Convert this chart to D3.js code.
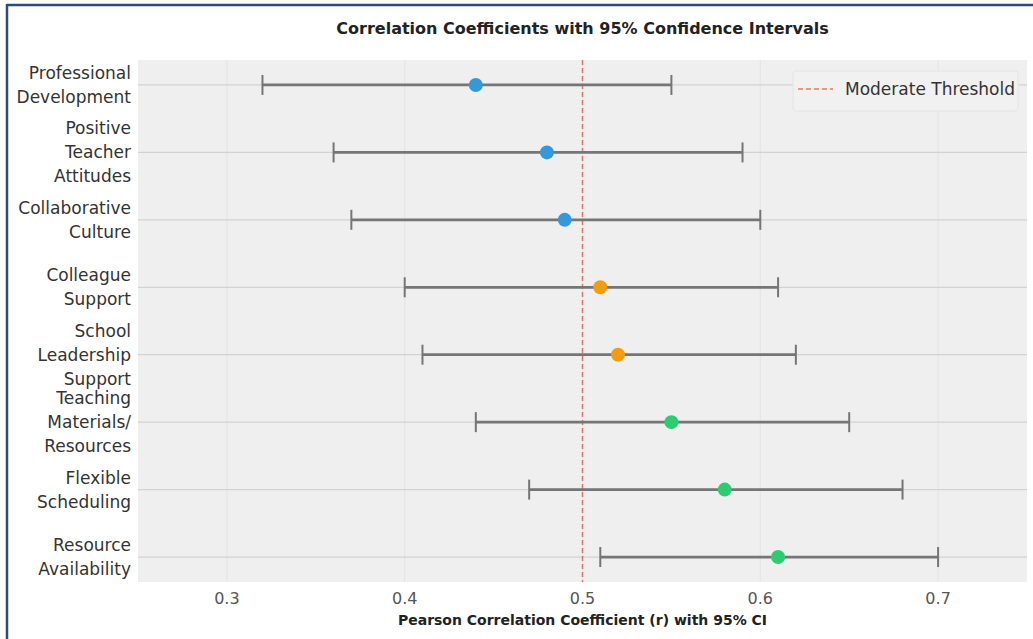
<!DOCTYPE html>
<html>
<head>
<meta charset="utf-8">
<script src="https://cdn.jsdelivr.net/npm/d3@7"></script>
<style>
  body { margin: 0; background: #fff; }
  svg text { font-family: "DejaVu Sans", sans-serif; }
</style>
</head>
<body>
<div class="graph"></div>
<script>
// data
const factors = [
  ["Professional", "Development"],
  ["Positive", "Teacher", "Attitudes"],
  ["Collaborative", "Culture"],
  ["Colleague", "Support"],
  ["School", "Leadership", "Support"],
  ["Teaching", "Materials/", "Resources"],
  ["Flexible", "Scheduling"],
  ["Resource", "Availability"]
];
const rValues = [0.44, 0.48, 0.49, 0.51, 0.52, 0.55, 0.58, 0.61];
const ciLow = [0.32, 0.36, 0.37, 0.40, 0.41, 0.44, 0.47, 0.51];
const ciHigh = [0.55, 0.59, 0.60, 0.61, 0.62, 0.65, 0.68, 0.70];
const dotColours = ["#3498db", "#3498db", "#3498db", "#f39c12", "#f39c12", "#2ecc71", "#2ecc71", "#2ecc71"];
const xTicks = [0.3, 0.4, 0.5, 0.6, 0.7];
const threshold = 0.5;

// dimensions
const W = 1033, H = 639;
const plot = { left: 138, right: 1027, top: 60, bottom: 582 };

const svg = d3.select(".graph").append("svg")
  .attr("width", W).attr("height", H);

// frame (top + left rule)
svg.append("line").attr("x1", 7).attr("x2", W).attr("y1", 5).attr("y2", 5)
  .attr("stroke", "#2d4b73").attr("stroke-width", 2.5);
svg.append("line").attr("x1", 7).attr("x2", 7).attr("y1", 4).attr("y2", H)
  .attr("stroke", "#2d4b73").attr("stroke-width", 2.5);

const x = d3.scaleLinear().domain([0.25, 0.75]).range([plot.left, plot.right]);
const y = d3.scaleLinear().domain([-0.37, factors.length - 1 + 0.37]).range([plot.top, plot.bottom]);

// plot background
svg.append("rect")
  .attr("x", plot.left).attr("y", plot.top)
  .attr("width", plot.right - plot.left).attr("height", plot.bottom - plot.top)
  .attr("fill", "#efefef");

// vertical grid
svg.append("g").selectAll("line").data(xTicks).enter().append("line")
  .attr("x1", d => x(d)).attr("x2", d => x(d))
  .attr("y1", plot.top).attr("y2", plot.bottom)
  .attr("stroke", "#e5e5e5").attr("stroke-width", 1.2);

// horizontal grid at each category
svg.append("g").selectAll("line").data(factors).enter().append("line")
  .attr("x1", plot.left).attr("x2", plot.right)
  .attr("y1", (d, i) => y(i)).attr("y2", (d, i) => y(i))
  .attr("stroke", "#d2d2d2").attr("stroke-width", 1.2);

// threshold line
svg.append("line")
  .attr("x1", x(threshold)).attr("x2", x(threshold))
  .attr("y1", plot.top).attr("y2", plot.bottom)
  .attr("stroke", "#e74c3c").attr("stroke-opacity", 0.75)
  .attr("stroke-width", 1.5).attr("stroke-dasharray", "5,3");

// error bars
const bars = svg.append("g").attr("stroke", "#757575").attr("stroke-width", 2.8);
factors.forEach((f, i) => {
  bars.append("line").attr("x1", x(ciLow[i])).attr("x2", x(ciHigh[i]))
    .attr("y1", y(i)).attr("y2", y(i));
  [ciLow[i], ciHigh[i]].forEach(v => {
    bars.append("line").attr("x1", x(v)).attr("x2", x(v))
      .attr("y1", y(i) - 10).attr("y2", y(i) + 10).attr("stroke-width", 2);
  });
});

// points
svg.append("g").selectAll("circle").data(rValues).enter().append("circle")
  .attr("cx", d => x(d)).attr("cy", (d, i) => y(i)).attr("r", 7)
  .attr("fill", (d, i) => dotColours[i]);

// y labels
const yl = svg.append("g");
factors.forEach((lines, i) => {
  const t = yl.append("text")
    .attr("text-anchor", "end").attr("fill", "#333")
    .style("font-size", "17px");
  lines.forEach((ln, j) => {
    t.append("tspan").attr("x", plot.left - 7)
      .attr("y", y(i) + (j - (lines.length - 1) / 2) * 24 + 6)
      .text(ln);
  });
});

// x tick labels
svg.append("g").selectAll("text").data(xTicks).enter().append("text")
  .attr("x", d => x(d)).attr("y", 604)
  .attr("text-anchor", "middle").attr("fill", "#555")
  .style("font-size", "16px")
  .text(d => d3.format(".1f")(d));

// title and axis title
svg.append("text").attr("x", (plot.left + plot.right) / 2).attr("y", 34)
  .attr("text-anchor", "middle").attr("fill", "#222")
  .style("font-size", "16px").style("font-weight", "bold")
  .text("Correlation Coefficients with 95% Confidence Intervals");

svg.append("text").attr("x", (plot.left + plot.right) / 2).attr("y", 625)
  .attr("text-anchor", "middle").attr("fill", "#222")
  .style("font-size", "14px").style("font-weight", "bold")
  .text("Pearson Correlation Coefficient (r) with 95% CI");

// legend
const lg = svg.append("g").attr("transform", "translate(793,71)");
lg.append("rect").attr("width", 225).attr("height", 40).attr("rx", 3)
  .attr("fill", "#f1f1f1").attr("stroke", "#e4e4e4");
lg.append("line").attr("x1", 5).attr("x2", 40).attr("y1", 18).attr("y2", 18)
  .attr("stroke", "#e74c3c").attr("stroke-opacity", 0.75)
  .attr("stroke-width", 1.5).attr("stroke-dasharray", "5,3");
lg.append("text").attr("x", 52).attr("y", 24).attr("fill", "#333")
  .style("font-size", "17px").text("Moderate Threshold");
</script>
</body>
</html>
